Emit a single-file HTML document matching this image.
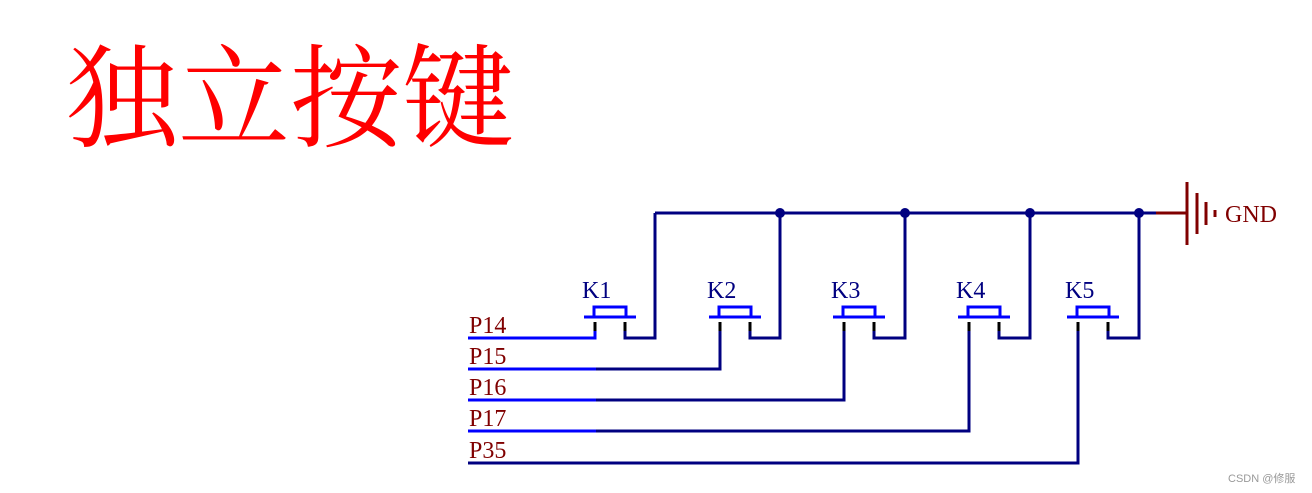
<!DOCTYPE html>
<html><head><meta charset="utf-8"><style>
html,body{margin:0;padding:0;background:#fff;}
svg{display:block;}
</style></head><body>
<svg width="1312" height="493" viewBox="0 0 1312 493" xmlns="http://www.w3.org/2000/svg">
<text x="66" y="138" font-family="'Liberation Serif','Noto Serif CJK SC',serif" font-size="112" fill="#ff0000" textLength="448" lengthAdjust="spacingAndGlyphs">独立按键</text>

<g stroke="#000080" stroke-width="3" fill="none">
<line x1="655" y1="213" x2="1156" y2="213"/>
<polyline points="625,330 625,338 655,338 655,213"/>
<polyline points="750,330 750,338 780,338 780,213"/>
<polyline points="595,369 720,369 720,330"/>
<polyline points="874,330 874,338 905,338 905,213"/>
<polyline points="595,400 844,400 844,330"/>
<polyline points="999,330 999,338 1030,338 1030,213"/>
<polyline points="595,431 969,431 969,330"/>
<polyline points="1108,330 1108,338 1139,338 1139,213"/>
<polyline points="468,463 1078,463 1078,330"/>
</g>
<g stroke="#0000ff" stroke-width="3" fill="none">
<polyline points="468,338 595,338 595,330"/>
<line x1="468" y1="369" x2="596" y2="369"/>
<line x1="468" y1="400" x2="596" y2="400"/>
<line x1="468" y1="431" x2="596" y2="431"/>
</g>
<g stroke="#0000ff" stroke-width="3" fill="none">
<g><line x1="584" y1="317" x2="636" y2="317"/><rect x="594" y="307" width="32" height="10"/></g>
<g transform="translate(125,0)"><line x1="584" y1="317" x2="636" y2="317"/><rect x="594" y="307" width="32" height="10"/></g>
<g transform="translate(249,0)"><line x1="584" y1="317" x2="636" y2="317"/><rect x="594" y="307" width="32" height="10"/></g>
<g transform="translate(374,0)"><line x1="584" y1="317" x2="636" y2="317"/><rect x="594" y="307" width="32" height="10"/></g>
<g transform="translate(483,0)"><line x1="584" y1="317" x2="636" y2="317"/><rect x="594" y="307" width="32" height="10"/></g>
</g>
<g stroke="#000" stroke-width="3">
<line x1="595" y1="322" x2="595" y2="331"/><line x1="625" y1="322" x2="625" y2="331"/>
<line x1="720" y1="322" x2="720" y2="331"/><line x1="750" y1="322" x2="750" y2="331"/>
<line x1="844" y1="322" x2="844" y2="331"/><line x1="874" y1="322" x2="874" y2="331"/>
<line x1="969" y1="322" x2="969" y2="331"/><line x1="999" y1="322" x2="999" y2="331"/>
<line x1="1078" y1="322" x2="1078" y2="331"/><line x1="1108" y1="322" x2="1108" y2="331"/>
</g>
<g fill="#000080">
<circle cx="780" cy="213" r="5"/><circle cx="905" cy="213" r="5"/><circle cx="1030" cy="213" r="5"/><circle cx="1139" cy="213" r="5"/>
</g>
<g font-family="'Liberation Serif',serif" font-size="24" fill="#000080">
<text x="582" y="298">K1</text><text x="707" y="298">K2</text><text x="831" y="298">K3</text><text x="956" y="298">K4</text><text x="1065" y="298">K5</text>
</g>
<g font-family="'Liberation Serif',serif" font-size="24" fill="#800000">
<text x="469" y="333">P14</text><text x="469" y="364">P15</text><text x="469" y="395">P16</text><text x="469" y="426">P17</text><text x="469" y="458">P35</text>
<text x="1225" y="222">GND</text>
</g>
<g stroke="#800000" stroke-width="3">
<line x1="1156" y1="213" x2="1187" y2="213"/>
<line x1="1187" y1="182" x2="1187" y2="245"/>
<line x1="1197" y1="193" x2="1197" y2="234"/>
<line x1="1206" y1="202" x2="1206" y2="225"/>
<line x1="1215" y1="210" x2="1215" y2="217"/>
</g>
<text x="1228" y="482" font-family="'Liberation Sans','Noto Sans CJK SC',sans-serif" font-size="11" fill="#999">CSDN @修服</text>
</svg>
</body></html>
